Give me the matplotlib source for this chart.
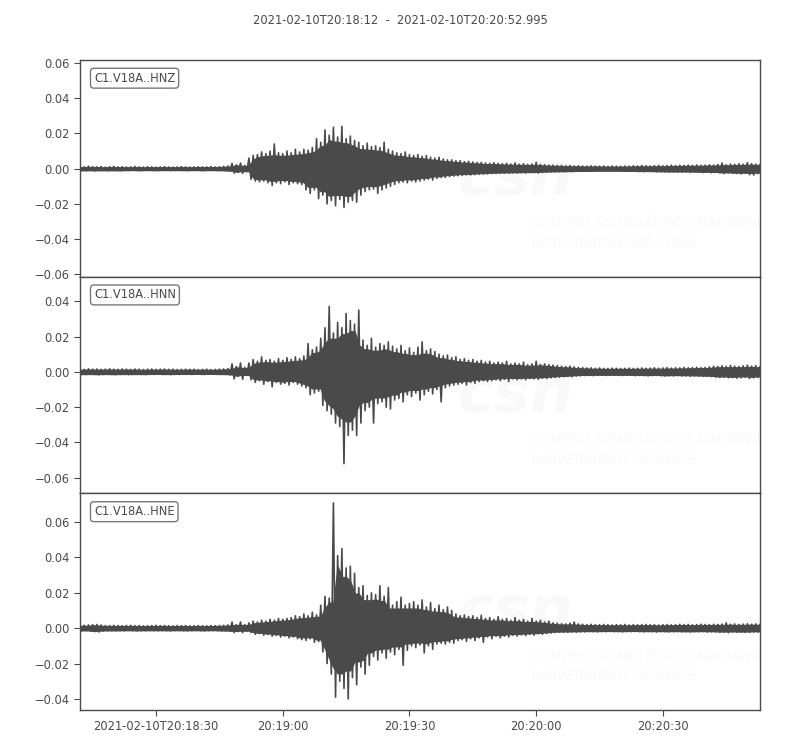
import numpy as np
import matplotlib
matplotlib.use("Agg")
import matplotlib.pyplot as plt

plt.rcParams['font.family'] = ['DejaVu Sans']

# seconds after 2021-02-10T20:18:12, one sample of the envelope per second
t_sec = np.arange(0, 162)

# envelopes, in units of 1e-3 (upper / lower magnitude)
hnz_up = [1.2, 1.0, 1.4, 1.1, 1.0, 1.2, 0.9, 1.1, 1.3, 1.0, 1.1, 0.9, 1.0, 1.2, 1.0, 0.9, 1.1, 1.0, 0.9, 1.0,
          1.1, 1.0, 0.9, 1.0, 1.2, 1.0, 0.9, 1.0, 1.1, 1.0, 1.0, 1.2, 1.0, 1.1, 1.3, 1.5, 3.0, 2.2, 3.2, 1.8,
          6.0, 7.5, 8.0, 9.5, 8.5, 10.0, 14.0, 9.0, 8.5, 10.0, 9.0, 11.0, 9.5, 11.0, 10.5, 12.0, 17.0, 15.0, 22.0, 19.0,
          23.5, 18.0, 24.0, 17.0, 18.5, 16.0, 15.0, 13.0, 14.5, 12.5, 13.0, 12.0, 15.0, 11.0, 10.0, 9.0, 8.5, 9.5, 8.0, 7.5,
          8.0, 7.0, 7.5, 6.5, 6.0, 6.5, 5.5, 5.0, 5.0, 4.5, 4.5, 4.0, 4.2, 3.8, 3.5, 3.5, 3.2, 3.0, 3.4, 3.0,
          2.8, 3.0, 2.6, 3.2, 2.5, 2.8, 2.4, 2.6, 3.6, 2.4, 2.2, 2.0, 2.0, 1.8, 1.9, 1.6, 1.8, 1.5, 1.6, 1.5,
          1.4, 1.6, 1.5, 1.4, 1.5, 1.3, 1.5, 1.4, 1.3, 1.5, 1.4, 1.6, 1.5, 1.8, 1.6, 1.5, 1.7, 1.9, 1.6, 1.8,
          2.0, 1.7, 1.9, 1.8, 2.0, 1.8, 2.1, 1.9, 2.0, 2.2, 2.0, 2.4, 3.2, 2.2, 2.6, 2.4, 2.8, 2.5, 3.4, 2.8,
          2.6, 2.4]
hnz_lo = [1.1, 1.2, 1.0, 1.3, 1.1, 1.0, 1.2, 1.0, 1.1, 1.2, 1.0, 1.1, 0.9, 1.0, 1.1, 1.0, 0.9, 1.1, 1.0, 1.0,
          0.9, 1.1, 1.0, 0.9, 1.0, 1.1, 1.0, 0.9, 1.0, 1.1, 1.0, 0.9, 1.1, 1.0, 1.2, 1.3, 2.5, 2.0, 2.6, 1.6,
          6.0, 7.0, 7.5, 7.0, 8.0, 9.5, 8.0, 8.5, 7.5, 9.0, 8.0, 8.5, 9.0, 12.0, 14.0, 12.0, 17.0, 15.0, 20.0, 18.0,
          21.0, 17.5, 22.0, 19.0, 18.0, 19.0, 15.0, 13.0, 12.0, 11.5, 14.0, 12.0, 11.0, 10.0, 9.0, 8.0, 7.5, 8.0, 7.0, 7.5,
          7.0, 6.5, 6.0, 6.5, 5.5, 5.0, 5.0, 4.5, 4.2, 4.0, 3.8, 3.5, 3.6, 3.4, 3.2, 3.0, 3.0, 2.8, 2.7, 2.6,
          2.5, 2.6, 2.4, 2.5, 2.3, 2.4, 2.2, 2.3, 2.5, 2.1, 2.0, 1.9, 1.8, 1.7, 1.8, 1.6, 1.7, 1.5, 1.5, 1.4,
          1.5, 1.4, 1.5, 1.3, 1.4, 1.3, 1.4, 1.3, 1.4, 1.5, 1.4, 1.5, 1.6, 1.7, 1.5, 1.6, 1.8, 1.7, 1.8, 1.9,
          1.8, 1.9, 2.0, 1.8, 2.1, 1.9, 2.0, 2.2, 2.0, 2.3, 2.1, 2.4, 2.8, 2.4, 2.6, 2.8, 3.0, 2.6, 3.4, 3.6,
          2.8, 2.6]

hnn_up = [1.6, 1.4, 1.7, 1.5, 1.6, 1.4, 1.5, 1.7, 1.5, 1.4, 1.6, 1.5, 1.4, 1.6, 1.5, 1.3, 1.5, 1.6, 1.4, 1.5,
          1.6, 1.4, 1.5, 1.3, 1.4, 1.5, 1.4, 1.5, 1.3, 1.4, 1.5, 1.3, 1.4, 1.5, 1.6, 1.8, 4.5, 3.0, 5.0, 2.5,
          5.0, 7.0, 6.0, 8.5, 6.5, 7.0, 6.0, 7.5, 6.5, 8.0, 7.0, 8.5, 7.5, 9.0, 16.0, 12.5, 14.0, 19.0, 25.0, 37.0,
          22.0, 28.0, 25.0, 33.0, 29.0, 27.0, 35.0, 18.0, 15.0, 19.0, 14.0, 16.0, 15.0, 17.0, 14.5, 13.0, 15.0, 12.0, 13.5, 11.0,
          14.0, 17.0, 12.0, 13.0, 11.5, 10.0, 9.0, 9.5, 8.0, 8.5, 7.0, 7.5, 6.5, 7.0, 6.0, 6.5, 5.5, 6.0, 5.0, 5.5,
          5.0, 6.0, 4.5, 5.0, 4.5, 5.5, 4.0, 4.5, 6.0, 4.2, 4.5, 4.0, 3.8, 3.5, 3.2, 3.0, 3.2, 2.8, 2.5, 2.4,
          2.2, 2.3, 2.0, 2.2, 2.0, 1.9, 2.1, 2.0, 1.9, 2.0, 2.1, 1.9, 2.0, 2.2, 2.0, 2.1, 2.3, 2.0, 2.2, 2.4,
          2.1, 2.3, 2.2, 2.5, 2.3, 2.4, 2.6, 2.4, 2.5, 2.8, 3.2, 3.0, 3.4, 3.0, 3.6, 3.2, 3.0, 3.4, 3.8, 3.2,
          3.5, 3.0]
hnn_lo = [1.5, 1.6, 1.4, 1.5, 1.7, 1.5, 1.4, 1.5, 1.6, 1.5, 1.4, 1.6, 1.5, 1.4, 1.5, 1.6, 1.4, 1.5, 1.3, 1.5,
          1.4, 1.6, 1.4, 1.5, 1.3, 1.4, 1.5, 1.3, 1.4, 1.5, 1.4, 1.3, 1.5, 1.4, 1.5, 1.7, 4.0, 2.5, 4.2, 2.0,
          4.5, 6.0, 5.0, 7.0, 5.5, 8.5, 6.0, 7.0, 6.5, 7.5, 6.0, 7.0, 8.0, 9.0, 13.0, 12.0, 11.0, 19.0, 22.0, 24.0,
          29.0, 31.0, 52.0, 36.0, 33.0, 36.0, 29.0, 22.0, 20.0, 29.0, 18.0, 17.0, 20.0, 21.0, 16.0, 15.0, 17.0, 13.0, 14.0, 12.0,
          16.0, 13.0, 11.0, 12.5, 10.0, 17.0, 9.0, 8.0, 7.5, 7.0, 6.5, 7.5, 6.0, 6.5, 5.5, 5.0, 5.5, 5.0, 4.5, 5.0,
          4.2, 5.5, 4.0, 4.5, 4.0, 4.5, 3.8, 4.0, 4.2, 3.6, 3.8, 3.4, 3.2, 3.0, 2.8, 2.6, 2.8, 2.4, 2.2, 2.1,
          2.0, 2.2, 2.0, 1.9, 2.1, 2.0, 1.9, 2.0, 2.1, 1.9, 2.0, 2.2, 2.0, 2.1, 2.3, 2.1, 2.0, 2.2, 2.4, 2.2,
          2.3, 2.1, 2.4, 2.2, 2.5, 2.3, 2.4, 2.6, 2.5, 2.7, 3.0, 3.2, 3.0, 3.4, 3.2, 3.6, 3.4, 3.0, 3.8, 3.4,
          3.2, 3.0]

hne_up = [1.5, 1.6, 1.8, 2.0, 2.1, 1.8, 1.5, 1.4, 1.6, 1.5, 1.4, 1.5, 1.6, 1.4, 1.5, 1.3, 1.4, 1.5, 1.6, 1.4,
          1.5, 1.4, 1.3, 1.5, 1.4, 1.5, 1.3, 1.4, 1.5, 1.4, 1.3, 1.5, 1.4, 1.5, 1.6, 1.8, 3.5, 2.0, 3.5, 2.0,
          3.0, 4.0, 3.5, 4.5, 4.0, 5.0, 4.5, 5.5, 5.0, 5.5, 6.0, 7.0, 6.5, 8.0, 7.0, 9.0, 7.5, 13.0, 18.0, 17.0,
          70.8, 41.0, 45.0, 34.0, 35.0, 31.0, 23.0, 24.0, 18.5, 20.0, 19.0, 24.0, 18.0, 23.0, 13.0, 15.0, 17.5, 13.0, 14.0, 15.0,
          13.0, 16.0, 12.0, 14.5, 11.0, 13.0, 10.5, 12.0, 10.0, 8.0, 7.0, 7.5, 6.5, 7.0, 6.0, 7.3, 5.5, 6.0, 5.0, 6.5,
          5.0, 5.5, 4.5, 6.0, 4.5, 5.0, 4.0, 5.5, 4.0, 4.5, 3.5, 4.0, 3.0, 2.8, 2.5, 2.4, 2.8, 3.5, 2.4, 2.2,
          2.0, 2.2, 2.0, 1.9, 2.1, 2.0, 1.8, 2.0, 1.9, 2.1, 1.8, 2.0, 1.9, 2.0, 2.1, 1.9, 2.0, 1.8, 2.0, 2.1,
          1.9, 2.0, 2.2, 2.0, 2.1, 1.9, 2.0, 2.2, 2.1, 2.0, 2.2, 2.1, 2.3, 3.0, 2.2, 2.4, 2.1, 2.3, 2.5, 2.2,
          2.4, 2.2]
hne_lo = [1.5, 1.4, 1.7, 2.0, 2.2, 1.7, 1.5, 1.4, 1.5, 1.4, 1.5, 1.3, 1.4, 1.5, 1.4, 1.5, 1.3, 1.4, 1.5, 1.3,
          1.4, 1.5, 1.4, 1.3, 1.4, 1.5, 1.4, 1.3, 1.4, 1.5, 1.4, 1.3, 1.4, 1.5, 1.5, 1.7, 2.5, 1.8, 2.5, 1.6,
          2.5, 3.5, 3.0, 4.0, 3.5, 4.5, 4.0, 5.0, 4.5, 5.5, 5.0, 6.0, 6.5, 7.0, 6.0, 8.0, 7.5, 13.5, 20.0, 26.0,
          39.0, 30.0, 34.0, 40.0, 28.0, 32.0, 22.0, 26.0, 21.0, 16.0, 18.0, 14.0, 17.0, 13.5, 15.0, 12.0, 21.0, 12.5, 10.0, 11.0,
          9.5, 14.0, 10.0, 12.0, 9.0, 8.5, 9.0, 8.0, 8.5, 7.0, 6.5, 7.5, 6.0, 7.0, 5.5, 8.0, 5.0, 6.0, 4.5, 5.5,
          4.5, 5.0, 4.0, 4.5, 3.8, 4.2, 3.5, 4.0, 3.2, 3.5, 3.0, 2.8, 2.5, 2.3, 2.2, 2.4, 2.1, 2.3, 2.0, 2.1,
          1.9, 2.0, 2.1, 1.9, 2.0, 1.8, 2.0, 1.9, 2.1, 1.9, 2.0, 1.8, 2.0, 2.1, 1.9, 2.0, 2.2, 1.9, 2.0, 2.1,
          2.0, 1.9, 2.1, 2.0, 2.2, 2.0, 2.1, 1.9, 2.2, 2.0, 2.1, 2.3, 2.2, 2.6, 2.1, 2.3, 2.2, 2.4, 2.3, 2.1,
          2.2, 2.0]

channels = ['C1.V18A..HNZ', 'C1.V18A..HNN', 'C1.V18A..HNE']
uppers = [hnz_up, hnn_up, hne_up]
lowers = [hnz_lo, hnn_lo, hne_lo]
ylims = [(-0.0612, 0.0618), (-0.0688, 0.054), (-0.0463, 0.0763)]
yticks = [[-0.06, -0.04, -0.02, 0.0, 0.02, 0.04, 0.06],
          [-0.06, -0.04, -0.02, 0.0, 0.02, 0.04],
          [-0.04, -0.02, 0.0, 0.02, 0.04, 0.06]]

xtick_sec = [18, 48, 78, 108, 138]
xtick_labels = ['2021-02-10T20:18:30', '20:19:00', '20:19:30', '20:20:00', '20:20:30']
title = '2021-02-10T20:18:12  -  2021-02-10T20:20:52.995'
t_end = 160.995

gray = '#4a4a4a'
fs = 8.3


def body(vals):
    # solid core of the trace: smallest value of each sample and its neighbours
    v = np.asarray(vals)
    padded = np.concatenate([[v[0]], v, [v[-1]]])
    return np.minimum(np.minimum(padded[:-2], padded[1:-1]), padded[2:])


fig = plt.figure(figsize=(8, 7.5), dpi=100)
axes = []
for i in range(3):
    bottom = 0.0533 + (2 - i) * 0.289
    ax = fig.add_axes([0.1, bottom, 0.85, 0.289])
    axes.append(ax)

for i, ax in enumerate(axes):
    up = np.array(uppers[i]) * 1e-3
    lo = -np.array(lowers[i]) * 1e-3
    xs = np.empty(2 * len(t_sec))
    ys = np.empty(2 * len(t_sec))
    xs[0::2] = t_sec
    xs[1::2] = t_sec + 0.5
    ys[0::2] = up
    ys[1::2] = lo
    ax.fill_between(t_sec, -0.85 * body(lowers[i]) * 1e-3, 0.85 * body(uppers[i]) * 1e-3,
                    color=gray, lw=1.0, zorder=3)
    ax.plot(xs, ys, color=gray, lw=1.2, zorder=4)

    # faint watermark
    ax.text(0.555, 0.45, 'csn', transform=ax.transAxes, fontsize=44, fontstyle='italic',
            fontweight='bold', color='#f9f9f9', zorder=1, ha='left', va='center')
    ax.text(0.665, 0.20, 'CENTRO SISMOLÓGICO NACIONAL\nUNIVERSIDAD DE CHILE', transform=ax.transAxes,
            fontsize=10, fontstyle='italic', color='#f9f9f9', zorder=1, ha='left', va='center',
            linespacing=1.5, clip_on=True)

    ax.text(0.0205, 0.945, channels[i], transform=ax.transAxes, ha='left', va='top', fontsize=fs,
            color=gray, zorder=6,
            bbox=dict(boxstyle='round,pad=0.3', fc='white', ec='#777777', lw=1))

    ax.set_xlim(0, t_end)
    ax.set_ylim(*ylims[i])
    ax.set_yticks(yticks[i])
    ax.tick_params(axis='y', labelsize=fs, colors=gray, direction='out', length=4)
    ax.tick_params(axis='x', labelsize=fs, colors=gray, direction='out', length=4)
    for sp in ax.spines.values():
        sp.set_color(gray)
        sp.set_linewidth(1.0)
    ax.set_xticks(xtick_sec)
    if i < 2:
        ax.tick_params(axis='x', which='both', length=0, labelbottom=False)
    else:
        ax.set_xticklabels(xtick_labels)

fig.text(0.5, 0.973, title, ha='center', va='center', fontsize=fs, color=gray)

fig.savefig('out.png', dpi=100)
